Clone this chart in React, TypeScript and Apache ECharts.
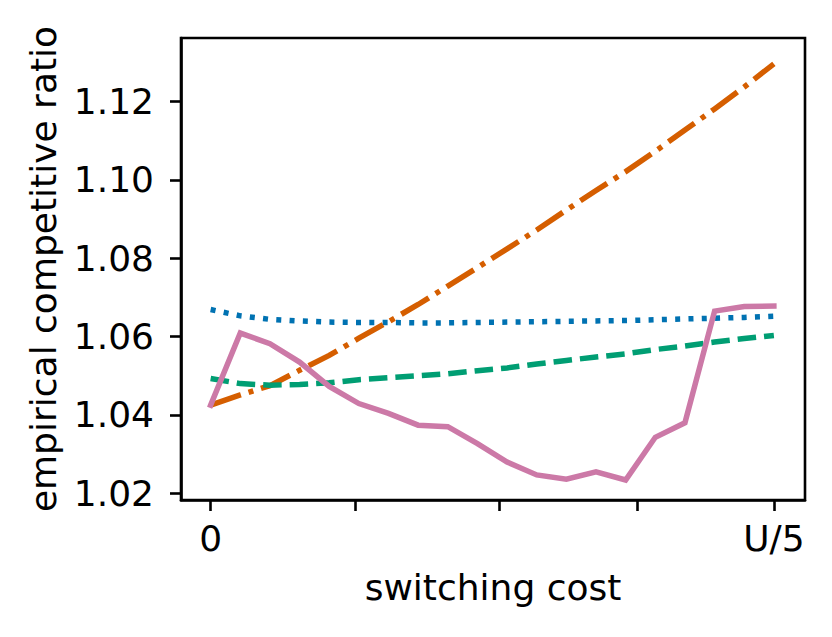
import React, { useEffect, useRef } from "react";
import * as echarts from "echarts";

const xIndex = [0, 1, 2, 3, 4, 5, 6, 7, 8, 9, 10, 11, 12, 13, 14, 15, 16, 17, 18, 19];
const xTickValues = [0, 4.87, 9.74, 14.39, 19];
const xLabelValues = [0, 19];
const xLabelText: Record<string, string> = { "0": "0", "19": "U/5" };
const yTickValues = [1.02, 1.04, 1.06, 1.08, 1.1, 1.12];

const blueDotted = [1.0669, 1.0653, 1.0644, 1.064, 1.0637, 1.0636, 1.0636, 1.0635, 1.0635, 1.0636, 1.0637, 1.0638, 1.0639, 1.064, 1.0641, 1.0643, 1.0645, 1.0647, 1.0649, 1.0652];
const orangeDashDot = [1.0425, 1.0451, 1.0475, 1.0514, 1.0552, 1.0596, 1.0638, 1.0682, 1.0729, 1.0776, 1.0824, 1.0872, 1.0923, 1.0973, 1.1021, 1.1073, 1.1127, 1.1181, 1.1237, 1.1296];
const greenDashed = [1.0493, 1.048, 1.0476, 1.0478, 1.0482, 1.049, 1.0495, 1.05, 1.0505, 1.0513, 1.052, 1.053, 1.0539, 1.0548, 1.0556, 1.0567, 1.0576, 1.0586, 1.0595, 1.0603];
const pinkSolid = [1.0425, 1.0609, 1.0582, 1.0535, 1.0473, 1.0429, 1.0404, 1.0374, 1.037, 1.0327, 1.028, 1.0247, 1.0236, 1.0255, 1.0234, 1.0343, 1.038, 1.0665, 1.0677, 1.0678];

const pairs = (ys: number[]) => xIndex.map((x, i) => [x, ys[i]]);

export default function App() {
  const ref = useRef<HTMLDivElement>(null);
  useEffect(() => {
    if (!ref.current) return;
    const chart = echarts.init(ref.current, undefined, { renderer: "svg" });
    const font = "DejaVu Sans";
    const fs = 36;
    const lineSeries = (name: string, data: number[], color: string, type: any, cap: string) => ({
      name,
      type: "line",
      data: pairs(data),
      showSymbol: false,
      symbol: "none",
      lineStyle: { color, width: 5.5, type, cap, join: "miter" },
      z: 3,
    });
    const axisLine = { show: true, onZero: false, lineStyle: { color: "#000", width: 2.6 } };
    const tickStyle = { color: "#000", width: 2.6 };
    chart.setOption({
      animation: false,
      backgroundColor: "#ffffff",
      grid: {
        left: 181,
        top: 38,
        right: 27,
        bottom: 137,
        show: true,
        borderColor: "#000",
        borderWidth: 2.6,
        backgroundColor: "transparent",
        z: 5,
      },
      xAxis: {
        type: "value",
        min: -1.0,
        max: 20.05,
        name: "switching cost",
        nameLocation: "middle",
        nameGap: 69,
        nameTextStyle: { fontFamily: font, fontSize: fs, color: "#000" },
        axisLine,
        splitLine: { show: false },
        axisTick: {
          show: true,
          inside: false,
          customValues: xTickValues,
          length: 11,
          lineStyle: tickStyle,
        },
        axisLabel: {
          customValues: xLabelValues,
          formatter: (v: number) => xLabelText[String(Math.round(v))] ?? "",
          fontFamily: font,
          fontSize: fs,
          color: "#000",
          margin: 20,
        },
      },
      yAxis: {
        type: "value",
        min: 1.0183,
        max: 1.1362,
        name: "empirical competitive ratio",
        nameLocation: "middle",
        nameGap: 120,
        nameTextStyle: { fontFamily: font, fontSize: fs, color: "#000" },
        axisLine,
        splitLine: { show: false },
        axisTick: {
          show: true,
          inside: false,
          customValues: yTickValues,
          length: 11,
          lineStyle: tickStyle,
        },
        axisLabel: {
          customValues: yTickValues,
          formatter: (v: number) => v.toFixed(2),
          fontFamily: font,
          fontSize: fs,
          color: "#000",
          margin: 27,
        },
      },
      series: [
        lineSeries("blue", blueDotted, "#0072B2", [5, 8.3], "butt"),
        lineSeries("orange", orangeDashDot, "#D55E00", [32, 8, 5, 8], "butt"),
        lineSeries("green", greenDashed, "#009E73", [18.5, 8], "butt"),
        lineSeries("pink", pinkSolid, "#CC79A7", "solid", "square"),
      ],
    });
    return () => chart.dispose();
  }, []);
  return (
    <div
      ref={ref}
      style={{ position: "fixed", left: 0, top: 0, width: 832, height: 637 }}
    />
  );
}
